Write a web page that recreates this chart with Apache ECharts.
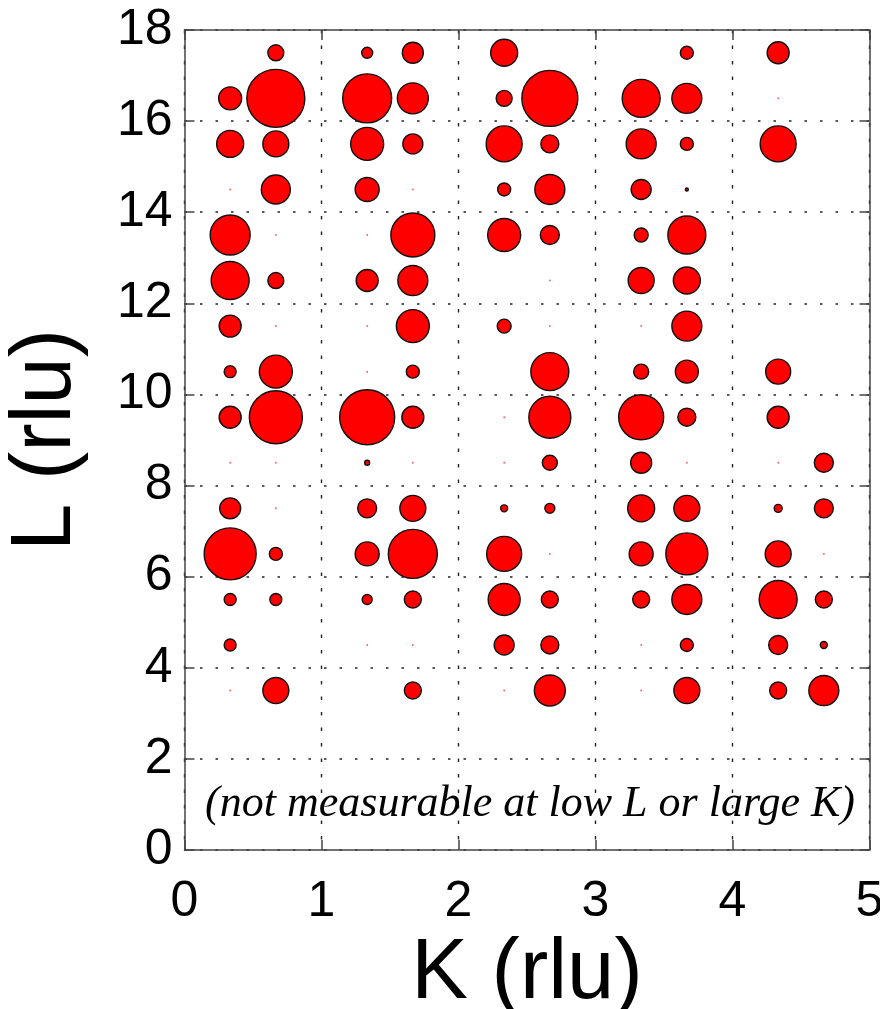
<!DOCTYPE html>
<html>
<head>
<meta charset="utf-8">
<title>K-L intensity map</title>
<script src="https://cdn.jsdelivr.net/npm/echarts@6/dist/echarts.min.js"></script>
<style>
  html, body { margin: 0; padding: 0; background: #ffffff; }
  #chart { width: 880px; height: 1009px; }
</style>
</head>
<body>
<div id="chart"></div>
<script>
// Reflection positions (reciprocal lattice units)
const K_COLS = [1/3, 2/3, 4/3, 5/3, 7/3, 8/3, 10/3, 11/3, 13/3, 14/3];
const L_ROWS = [3.5, 4.5, 5.5, 6.5, 7.5, 8.5, 9.5, 10.5, 11.5, 12.5, 13.5, 14.5, 15.5, 16.5, 17.5];

// Relative structure-factor amplitude per K column, ordered by L_ROWS.
// null = not measured, 0.1 = measured but essentially absent.
const AMP_K1_3  = [0.1, 1.2, 1.2, 5.2, 2.1, 0.1, 2.2, 1.2, 2.2, 3.8, 4.0, 0.1, 2.7, 2.3, null];
const AMP_K2_3  = [2.6, null, 1.2, 1.3, 0.1, 0.1, 5.3, 3.3, 0.1, 1.6, 0.1, 2.9, 2.6, 5.8, 1.6];
const AMP_K4_3  = [null, 0.1, 1.0, 2.4, 1.9, 0.5, 5.5, 0.1, 0.1, 2.2, 0.1, 2.4, 3.3, 4.9, 1.1];
const AMP_K5_3  = [1.7, 0.1, 1.7, 4.9, 2.6, 0.1, 2.2, 1.3, 3.3, 3.0, 4.4, 0.1, 2.0, 3.1, 2.1];
const AMP_K7_3  = [0.1, 2.0, 3.2, 3.5, 0.7, 0.1, 0.1, null, 1.4, null, 3.3, 1.3, 3.6, 1.6, 2.7];
const AMP_K8_3  = [3.1, 1.8, 1.7, 0.1, 1.0, 1.5, 4.2, 3.8, 0.1, 0.1, 1.9, 3.0, 1.8, 5.6, null];
const AMP_K10_3 = [0.1, 0.1, 1.7, 2.4, 2.7, 2.1, 4.5, 1.5, 0.1, 2.6, 1.4, 2.0, 3.0, 3.8, null];
const AMP_K11_3 = [2.6, 1.3, 3.0, 4.2, 2.6, 0.1, 1.8, 2.3, 3.0, 2.7, 3.8, 0.3, 1.3, 3.0, 1.3];
const AMP_K13_3 = [1.7, 1.9, 3.8, 2.6, 0.8, 0.1, 2.2, 2.5, null, null, null, null, 3.6, 0.1, 2.2];
const AMP_K14_3 = [3.0, 0.7, 1.7, 0.1, 1.9, 1.9, null, null, null, null, null, null, null, null, null];

const AMP_COLUMNS = [AMP_K1_3, AMP_K2_3, AMP_K4_3, AMP_K5_3, AMP_K7_3,
                     AMP_K8_3, AMP_K10_3, AMP_K11_3, AMP_K13_3, AMP_K14_3];

const X_TICKS = [0, 1, 2, 3, 4, 5];
const Y_TICKS = [0, 2, 4, 6, 8, 10, 12, 14, 16, 18];

const X_TITLE = 'K (rlu)';
const Y_TITLE = 'L (rlu)';
const NOTE = '(not measurable at low L or large K)';

// marker diameter (px) per unit amplitude
const SIZE_PER_AMP = 10;
const WEAK = 0.15;

const strong = [];
const weak = [];
K_COLS.forEach((k, ci) => {
  AMP_COLUMNS[ci].forEach((a, ri) => {
    if (a === null) return;
    (a < WEAK ? weak : strong).push([k, L_ROWS[ri], a]);
  });
});
// draw big circles first so small ones stay visible on top
strong.sort((p, q) => q[2] - p[2]);

const SANS = '"Liberation Sans", Arial, Helvetica, sans-serif';

const chart = echarts.init(document.getElementById('chart'), null, { renderer: 'canvas' });

const gridDotsH = { color: '#222', width: 1.6, type: [2.5, 13] };
const gridDotsV = { color: '#222', width: 1.4, type: [3.5, 12] };
const frame = { color: '#444', width: 1.5 };
const ticksIn = { show: true, inside: true, length: 10, lineStyle: { color: '#444', width: 1.5 } };

chart.setOption({
  backgroundColor: '#ffffff',
  animation: false,
  grid: {
    left: 184.5, right: 10.5, top: 30, bottom: 159,
    containLabel: false,
    outerBoundsMode: 'none'
  },
  xAxis: [
    {
      type: 'value', min: X_TICKS[0], max: X_TICKS[X_TICKS.length - 1], interval: 1,
      position: 'bottom',
      name: X_TITLE, nameLocation: 'middle', nameGap: 76,
      nameTextStyle: { fontFamily: SANS, fontSize: 85, color: '#000' },
      axisLine: { show: true, onZero: false, lineStyle: frame },
      axisTick: ticksIn,
      axisLabel: { fontFamily: SANS, fontSize: 50, color: '#000', margin: 27 },
      splitLine: { show: true, lineStyle: gridDotsV }
    },
    {
      type: 'value', min: X_TICKS[0], max: X_TICKS[X_TICKS.length - 1], interval: 1,
      position: 'top',
      axisLine: { show: true, onZero: false, lineStyle: frame },
      axisTick: ticksIn,
      axisLabel: { show: false },
      splitLine: { show: false }
    }
  ],
  yAxis: [
    {
      type: 'value', min: Y_TICKS[0], max: Y_TICKS[Y_TICKS.length - 1], interval: 2,
      position: 'left',
      name: Y_TITLE, nameLocation: 'middle', nameGap: 95, nameRotate: 90,
      nameTextStyle: { fontFamily: SANS, fontSize: 85, color: '#000' },
      axisLine: { show: true, onZero: false, lineStyle: frame },
      axisTick: ticksIn,
      axisLabel: { fontFamily: SANS, fontSize: 50, color: '#000', margin: 12 },
      splitLine: { show: true, lineStyle: gridDotsH }
    },
    {
      type: 'value', min: Y_TICKS[0], max: Y_TICKS[Y_TICKS.length - 1], interval: 2,
      position: 'right',
      axisLine: { show: true, onZero: false, lineStyle: frame },
      axisTick: ticksIn,
      axisLabel: { show: false },
      splitLine: { show: false }
    }
  ],
  series: [
    {
      name: 'weak',
      type: 'scatter',
      data: weak,
      symbol: 'circle',
      symbolSize: 2,
      itemStyle: { color: 'rgba(255,0,0,0.6)', borderWidth: 0, opacity: 1 },
      z: 3
    },
    {
      name: 'intensity',
      type: 'scatter',
      data: strong,
      symbol: 'circle',
      symbolSize: (v) => v[2] * SIZE_PER_AMP,
      itemStyle: { color: '#ff0000', borderColor: '#111', borderWidth: 1.4, opacity: 1 },
      z: 4
    }
  ],
  graphic: [
    {
      type: 'text',
      x: 530, y: 804,
      z: 10,
      style: {
        text: NOTE,
        font: 'italic 44px "Liberation Serif", "Times New Roman", serif',
        fill: '#000',
        align: 'center',
        verticalAlign: 'middle'
      }
    }
  ]
});
</script>
</body>
</html>
